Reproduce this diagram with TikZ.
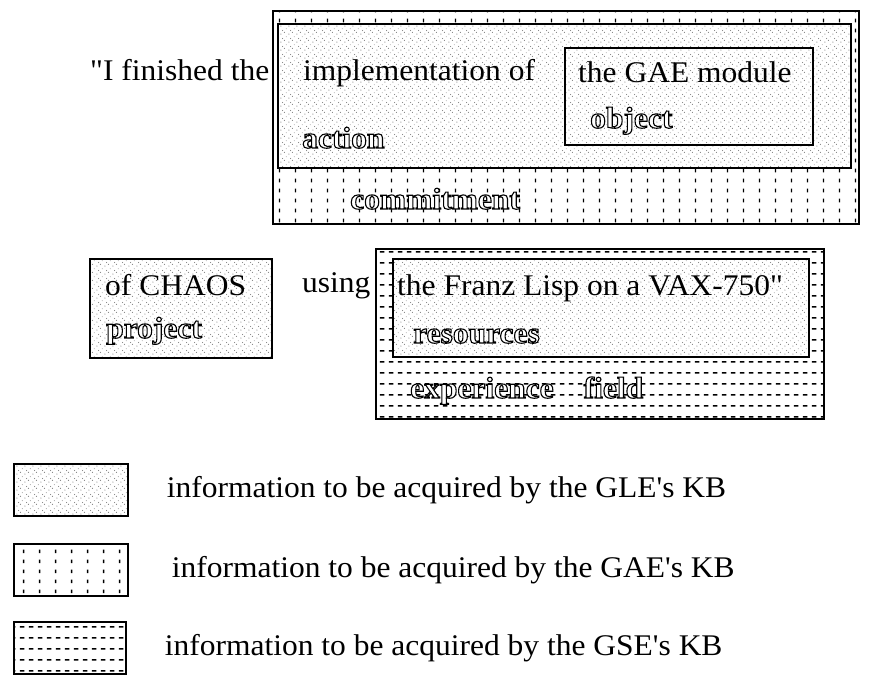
\documentclass[tikz,border=0pt]{standalone}
\usepackage{fontspec}
\setmainfont{Liberation Serif}[Ligatures=TeXOff, FakeStretch=1.05]
\usetikzlibrary{positioning,patterns.meta}

% outlined lettering: fill white, stroke black
\newcommand{\outlined}[1]{\special{pdf:literal direct 2 Tr 1.1 w 1 g 0 G}#1\special{pdf:literal direct 0 Tr 0 g 0 G}}

% fills of the three knowledge bases
\tikzdeclarepattern{
  name=glespeck, type=uncolored,
  bottom left={(0pt,0pt)}, top right={(8pt,8pt)}, tile size={(8pt,8pt)},
  code={\fill (1pt,1pt) circle (0.6pt); \fill (5pt,3pt) circle (0.6pt);
        \fill (3pt,5pt) circle (0.6pt); \fill (7pt,7pt) circle (0.5pt);}
}
\tikzdeclarepattern{
  name=gaedash, type=uncolored,
  bottom left={(0pt,0pt)}, top right={(16pt,10pt)}, tile size={(16pt,10pt)},
  code={\draw[line width=1.5pt] (8pt,3pt) -- (8pt,7pt);}
}
\tikzdeclarepattern{
  name=gsedash, type=uncolored,
  bottom left={(0pt,0pt)}, top right={(9pt,11pt)}, tile size={(9pt,11pt)},
  code={\draw[line width=1.5pt] (2pt,5.5pt) -- (7pt,5.5pt);}
}

\begin{document}
\begin{tikzpicture}[
    x=1pt, y=-1pt,
    every node/.style = {font=\fontsize{30}{36}\selectfont, inner sep=0pt},
    word/.style = {anchor=base west},
    hollow/.style = {anchor=base west, font=\fontsize{30}{36}\selectfont\bfseries},
    frame/.style = {draw, line width=1.6pt, anchor=north west, inner sep=0pt, preaction={fill=white}},
    gle/.style = {frame, pattern=glespeck, pattern color=black!55},
    gae/.style = {frame, pattern=gaedash},
    gse/.style = {frame, pattern=gsedash}
]
\useasboundingbox (0,0) rectangle (870,675);

% first line of the sentence
\node (commit) [gae, minimum width=586pt, minimum height=213pt] at (272,10) {};
\node (action) [gle, minimum width=573pt, minimum height=144pt] at (277,23) {};
\node (object) [gle, minimum width=248pt, minimum height=97pt] at (564,47) {};

\node (finished) [word] at (90,80) {"I finished the};
\node (impl) [word] at (303,80) {implementation of};
\node (module) [word] at (578,82) {the GAE module};
\node (objlbl) [hollow] at (590,128) {\outlined{object}};
\node (actlbl) [hollow] at (302,148) {\outlined{action}};
\node (comlbl) [hollow] at (350,209) {\outlined{commitment}};

% second line of the sentence
\node (project) [gle, minimum width=182pt, minimum height=99pt] at (89,258) {};
\node (field) [gse, minimum width=448pt, minimum height=170pt] at (375,248) {};
\node (resources) [gle, minimum width=416pt, minimum height=98pt] at (392,258) {};

\node (chaos) [word] at (105,295) {of CHAOS};
\node (prjlbl) [hollow] at (106,338) {\outlined{project}};
\node (using) [word] at (302,292) {using};
\node (franz) [word] at (397,295) {the Franz Lisp on a VAX-750"};
\node (reslbl) [hollow] at (413,343) {\outlined{resources}};
\node (fldlbl) [hollow] at (410,398) {\outlined{experience\quad field}};

% legend
\node (keygle) [gle, minimum width=114pt, minimum height=52pt] at (13,463) {};
\node (keygae) [gae, minimum width=114pt, minimum height=52pt] at (13,543) {};
\node (keygse) [gse, minimum width=112pt, minimum height=52pt] at (13,621) {};

\node (txtgle) [anchor=west, right=38pt of keygle.east] {information to be acquired by the GLE's KB};
\node (txtgae) [anchor=west, right=43pt of keygae.east] {information to be acquired by the GAE's KB};
\node (txtgse) [anchor=west, right=38pt of keygse.east] {information to be acquired by the GSE's KB};
\end{tikzpicture}
\end{document}
